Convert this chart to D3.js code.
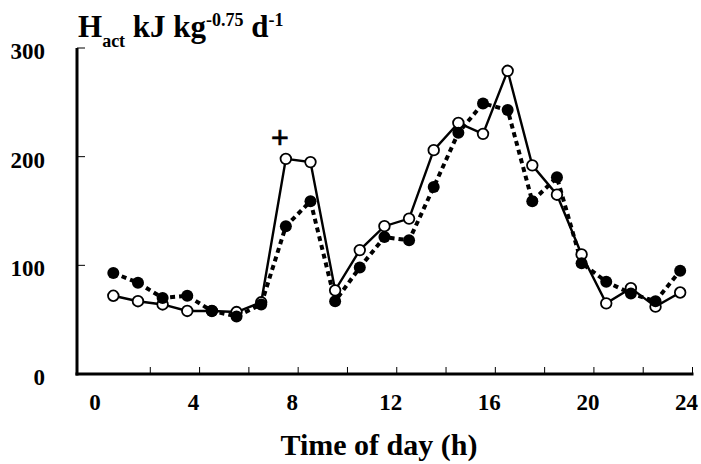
<!DOCTYPE html>
<html><head><meta charset="utf-8">
<script src="https://cdn.jsdelivr.net/npm/d3@7"></script>
<style>body{margin:0;background:#fff}svg{display:block}text{font-family:"Liberation Serif","Times New Roman",serif;font-weight:bold;fill:#000}</style>
</head><body>
<svg id="c" width="701" height="464"></svg>
<script>
const hours = [0.5,1.5,2.5,3.5,4.5,5.5,6.5,7.5,8.5,9.5,10.5,11.5,12.5,13.5,14.5,15.5,16.5,17.5,18.5,19.5,20.5,21.5,22.5,23.5];
const openValues = [72,67,64,58,58,57,66,198,195,77,114,136,143,206,231,221,279,192,165,110,65,79,62,75];
const filledValues = [93,84,70,72,58,53,64,136,159,67,98,126,123,172,222,249,243,159,181,102,85,74,67,95];
const xTicks = [0,4,8,12,16,20,24];
const yTicks = [0,100,200,300];

const svg = d3.select("#c");
const x = d3.scaleLinear().domain([0,24]).range([101,692.5]);
const y = d3.scaleLinear().domain([0,300]).range([374,48]);
const X0 = 77;

// axes
const g = svg.append("g");
g.append("line").attr("x1",X0).attr("x2",X0).attr("y1",y(300)).attr("y2",y(0)+1.5).attr("stroke","#000").attr("stroke-width",3);
g.append("line").attr("x1",X0-1.5).attr("x2",x(24)+1).attr("y1",y(0)).attr("y2",y(0)).attr("stroke","#000").attr("stroke-width",3);
// y ticks (inward)
g.selectAll(".yt").data(yTicks.filter(d=>d>0)).enter().append("line")
  .attr("x1",X0).attr("x2",X0+8).attr("y1",d=>y(d)).attr("y2",d=>y(d)).attr("stroke","#000").attr("stroke-width",1);
// x ticks every 2h (inward)
g.selectAll(".xt").data(d3.range(2,25,2)).enter().append("line")
  .attr("x1",d=>x(d)).attr("x2",d=>x(d)).attr("y1",y(0)).attr("y2",y(0)-7).attr("stroke","#000").attr("stroke-width",1);
// tick labels
g.selectAll(".yl").data(yTicks).enter().append("text")
  .attr("x",45).attr("y",d=>y(d)+11).attr("text-anchor","end").attr("font-size",23).text(d=>d);
g.selectAll(".xl").data(xTicks).enter().append("text")
  .attr("x",d=>x(d)-6).attr("y",410).attr("text-anchor","middle").attr("font-size",23).text(d=>d);

// axis titles
svg.append("text").attr("x",379).attr("y",455).attr("text-anchor","middle").attr("font-size",30).text("Time of day (h)");
const t = svg.append("text").attr("x",78).attr("y",37).attr("font-size",31);
t.append("tspan").text("H");
t.append("tspan").attr("font-size",18).attr("dy",10).text("act");
t.append("tspan").attr("dy",-10).text(" kJ kg");
t.append("tspan").attr("font-size",18).attr("dy",-11).text("-0.75");
t.append("tspan").attr("dy",11).text(" d");
t.append("tspan").attr("font-size",18).attr("dy",-11).text("-1");

// series
const line = d3.line().x(d=>x(d[0])).y(d=>y(d[1]));
const openData = hours.map((h,i)=>[h,openValues[i]]);
const filledData = hours.map((h,i)=>[h,filledValues[i]]);

svg.append("path").datum(openData).attr("d",line).attr("fill","none").attr("stroke","#000").attr("stroke-width",2.4);
svg.append("path").datum(filledData).attr("d",line).attr("fill","none").attr("stroke","#000").attr("stroke-width",4).attr("stroke-dasharray","5,4");

svg.selectAll(".op").data(openData).enter().append("circle")
  .attr("cx",d=>x(d[0])).attr("cy",d=>y(d[1])).attr("r",5.3).attr("fill","#fff").attr("stroke","#000").attr("stroke-width",1.8);
svg.selectAll(".fp").data(filledData).enter().append("circle")
  .attr("cx",d=>x(d[0])).attr("cy",d=>y(d[1])).attr("r",6).attr("fill","#000");

// annotation
svg.append("text").attr("x",x(7.5)-6).attr("y",y(198)-11).attr("text-anchor","middle").attr("font-size",32).attr("stroke","#000").attr("stroke-width",0.6).text("+");
</script>
</body></html>
